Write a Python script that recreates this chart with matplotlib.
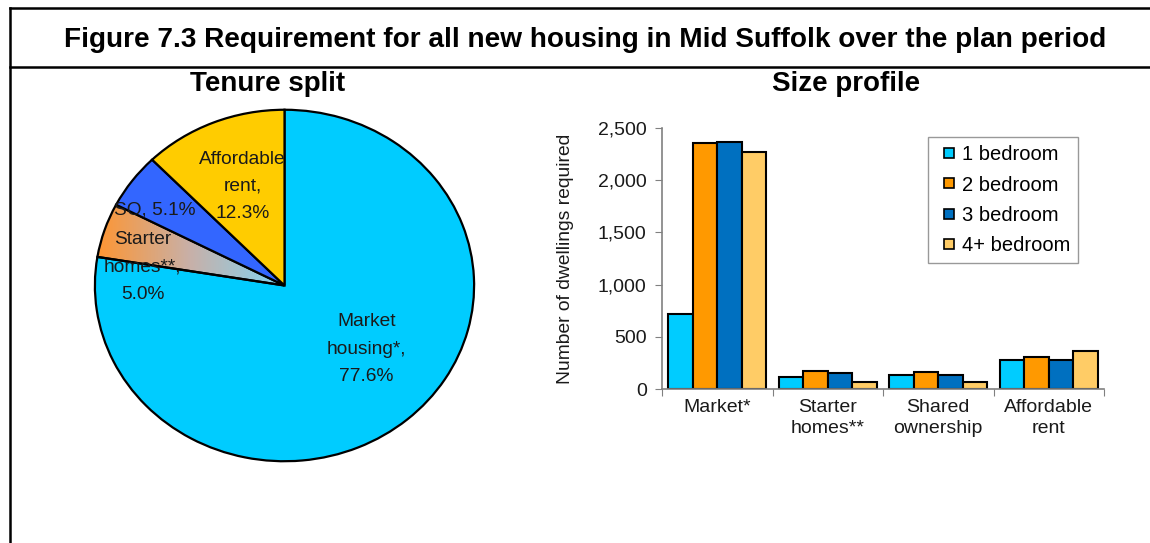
import numpy as np
import matplotlib
matplotlib.use("Agg")
import matplotlib.pyplot as plt
from matplotlib.lines import Line2D
from matplotlib.colors import LinearSegmentedColormap

plt.rcParams['font.family'] = ['Liberation Sans', 'DejaVu Sans']

# ---- data ----
tenure_labels = ["Market\nhousing*,\n77.6%", "Starter\nhomes**,\n5.0%", "SO, 5.1%", "Affordable\nrent,\n12.3%"]
tenure_shares = [77.6, 5.0, 5.1, 12.3]
tenure_colors = ["#00CCFF", "none", "#3366FF", "#FFCC00"]

categories = ["Market*", "Starter\nhomes**", "Shared\nownership", "Affordable\nrent"]
series_names = ["1 bedroom", "2 bedroom", "3 bedroom", "4+ bedroom"]
bed1 = [716, 111, 134, 274]
bed2 = [2353, 169, 166, 303]
bed3 = [2362, 153, 130, 281]
bed4 = [2273, 70, 67, 360]
series_values = [bed1, bed2, bed3, bed4]
series_colors = ["#00CCFF", "#FF9900", "#0070C0", "#FFCC66"]
yticks = [0, 500, 1000, 1500, 2000, 2500]
ytick_labels = ["0", "500", "1,000", "1,500", "2,000", "2,500"]

W, H = 1150, 543
fig = plt.figure(figsize=(W / 100, H / 100), dpi=100)

def fx(px):
    return px / W

def fy(py):
    return 1 - py / H

# ---- frame lines ----
lw = 1.8
fig.add_artist(Line2D([fx(10), fx(10)], [fy(8), fy(543)], color="black", lw=lw, transform=fig.transFigure))
fig.add_artist(Line2D([fx(10), fx(1150)], [fy(8), fy(8)], color="black", lw=lw, transform=fig.transFigure))
fig.add_artist(Line2D([fx(10), fx(1150)], [fy(67), fy(67)], color="black", lw=lw, transform=fig.transFigure))

fig.text(fx(585), fy(40), "Figure 7.3 Requirement for all new housing in Mid Suffolk over the plan period",
         ha="center", va="center", fontsize=20.2, fontweight="bold")
fig.text(fx(268), fy(84), "Tenure split", ha="center", va="center", fontsize=20, fontweight="bold")
fig.text(fx(846), fy(84), "Size profile", ha="center", va="center", fontsize=20, fontweight="bold")

# ---- pie ----
cx, cy, rx, ry = 284.5, 285.5, 191.5, 177.5
axp = fig.add_axes([fx(cx - rx), fy(cy + ry), (2 * rx) / W, (2 * ry) / H])
wedges, _ = axp.pie(tenure_shares, colors=tenure_colors, startangle=90, counterclock=False,
                    wedgeprops=dict(edgecolor="black", linewidth=1.6))
grad = LinearSegmentedColormap.from_list("g", ["#FF9530", "#C8B0A8", "#80D4F4"])
img = axp.imshow(np.linspace(0, 1, 256).reshape(1, -1), cmap=grad, extent=(-1, -0.0, -0.2, 0.6),
                 aspect="auto", zorder=0.5)
img.set_clip_path(wedges[1])
axp.set_aspect("auto")
axp.set_xlim(-1.01, 1.01)
axp.set_ylim(-1.01, 1.01)
axp.axis("off")

def pd(px, py):
    return ((px - cx) / rx, (cy - py) / ry)

label_pos = [pd(367, 350), pd(141, 266.5), pd(153, 209), pd(242, 185.5)]
for lab, (x, y) in zip(tenure_labels, label_pos):
    axp.text(x, y, lab, ha="center", va="center", fontsize=13.8, color="#1a1a1a",
             linespacing=1.8, zorder=5)

# ---- bars ----
left, right, top, bottom = 662, 1104, 128, 389
axb = fig.add_axes([fx(left), fy(bottom), (right - left) / W, (bottom - top) / H])
x = np.arange(len(categories))
bw = 0.222
for i, (vals, col, name) in enumerate(zip(series_values, series_colors, series_names)):
    axb.bar(x + (i - 1.5) * bw, vals, width=bw, color=col, edgecolor="black", linewidth=1.5, label=name)
axb.set_xlim(-0.5, len(categories) - 0.5)
axb.set_ylim(0, 2500)
axb.set_yticks(yticks)
axb.set_yticklabels(ytick_labels, fontsize=14, color="#1a1a1a")
axb.set_xticks(np.arange(-0.5, len(categories), 1.0))
axb.set_xticklabels([])
axb.set_xticks(x, minor=True)
axb.set_xticklabels(categories, minor=True, fontsize=14, color="#1a1a1a", linespacing=1.3)
axb.tick_params(axis="x", which="minor", length=0, pad=7)
axb.tick_params(axis="x", which="major", length=5, color="#808080")
axb.tick_params(axis="y", length=5, color="#808080", pad=6)
for s in ["top", "right"]:
    axb.spines[s].set_visible(False)
for s in ["left", "bottom"]:
    axb.spines[s].set_color("#808080")
    axb.spines[s].set_linewidth(1.2)
axb.set_ylabel("Number of dwellings required", fontsize=13.9, color="#1a1a1a", labelpad=17)

handles = [Line2D([], [], linestyle="none", marker="s", markersize=7.5, markerfacecolor=c,
                  markeredgecolor="black", markeredgewidth=1.2) for c in series_colors]
leg = fig.legend(handles, series_names, loc="upper left", bbox_to_anchor=(fx(928), fy(137)),
                 borderaxespad=0, fontsize=14.5, frameon=True, fancybox=False,
                 handlelength=1.2, handletextpad=0.05, labelspacing=0.55,
                 borderpad=0.42)
leg.get_frame().set_edgecolor("#808080")
leg.get_frame().set_linewidth(1.0)

fig.savefig("out.png", dpi=100)
